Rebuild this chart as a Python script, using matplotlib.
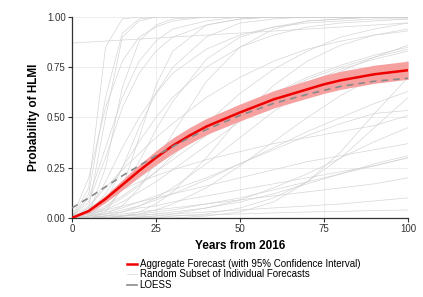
import numpy as np
import matplotlib.pyplot as plt

plt.rcParams['font.family'] = ['Liberation Sans', 'DejaVu Sans']

# years at which the summary curves are sampled
agg_years = [0, 5, 10, 15, 20, 25, 30, 35, 40, 50, 60, 70, 75, 80, 90, 100]

# aggregate forecast and its 95% interval
agg = [0.0, 0.035, 0.095, 0.165, 0.235, 0.30, 0.36, 0.41, 0.455, 0.525, 0.59, 0.64, 0.665, 0.685, 0.715, 0.735]
agg_lo = [0.0, 0.025, 0.077, 0.14, 0.205, 0.265, 0.322, 0.37, 0.415, 0.483, 0.547, 0.596, 0.62, 0.64, 0.67, 0.69]
agg_hi = [0.005, 0.045, 0.113, 0.19, 0.265, 0.335, 0.398, 0.45, 0.495, 0.567, 0.633, 0.684, 0.71, 0.73, 0.76, 0.78]

# LOESS fit
loess = [0.05, 0.10, 0.155, 0.21, 0.26, 0.31, 0.355, 0.40, 0.44, 0.51, 0.57, 0.615, 0.635, 0.655, 0.68, 0.695]

# random subset of individual forecasts
years = [0, 5, 10, 15, 20, 25, 30, 40, 50, 60, 70, 80, 90, 100]
indiv = [
    [0, 0.15, 0.85, 0.99, 1, 1, 1, 1, 1, 1, 1, 1, 1, 1],
    [0, 0.05, 0.5, 0.9, 0.98, 1, 1, 1, 1, 1, 1, 1, 1, 1],
    [0, 0.02, 0.25, 0.65, 0.88, 0.96, 0.99, 1, 1, 1, 1, 1, 1, 1],
    [0.87, 0.875, 0.88, 0.885, 0.89, 0.895, 0.9, 0.91, 0.92, 0.93, 0.94, 0.95, 0.96, 0.97],
    [0, 0.1, 0.35, 0.6, 0.78, 0.88, 0.94, 0.98, 1, 1, 1, 1, 1, 1],
    [0, 0.01, 0.08, 0.25, 0.45, 0.62, 0.75, 0.9, 0.97, 0.99, 1, 1, 1, 1],
    [0, 0.03, 0.12, 0.25, 0.38, 0.5, 0.6, 0.75, 0.85, 0.91, 0.95, 0.97, 0.98, 0.99],
    [0, 0.0, 0.02, 0.06, 0.15, 0.28, 0.42, 0.68, 0.85, 0.94, 0.98, 0.99, 1, 1],
    [0, 0.06, 0.15, 0.24, 0.32, 0.4, 0.47, 0.6, 0.7, 0.78, 0.84, 0.88, 0.91, 0.93],
    [0, 0.02, 0.06, 0.11, 0.17, 0.23, 0.29, 0.41, 0.52, 0.61, 0.69, 0.75, 0.8, 0.84],
    [0, 0.0, 0.01, 0.03, 0.06, 0.1, 0.15, 0.27, 0.4, 0.53, 0.64, 0.73, 0.8, 0.86],
    [0, 0.01, 0.03, 0.05, 0.08, 0.11, 0.14, 0.2, 0.27, 0.34, 0.41, 0.47, 0.52, 0.535],
    [0, 0.0, 0.0, 0.01, 0.02, 0.04, 0.07, 0.15, 0.26, 0.38, 0.5, 0.61, 0.7, 0.78],
    [0, 0.02, 0.04, 0.06, 0.08, 0.1, 0.12, 0.16, 0.2, 0.24, 0.28, 0.31, 0.34, 0.37],
    [0, 0.01, 0.02, 0.03, 0.05, 0.06, 0.08, 0.11, 0.14, 0.17, 0.2, 0.23, 0.26, 0.30],
    [0, 0.0, 0.01, 0.02, 0.03, 0.04, 0.05, 0.07, 0.09, 0.11, 0.13, 0.15, 0.17, 0.20],
    [0, 0, 0, 0, 0.005, 0.01, 0.02, 0.05, 0.09, 0.15, 0.22, 0.3, 0.38, 0.45],
    [0, 0, 0, 0, 0, 0, 0.01, 0.02, 0.05, 0.1, 0.18, 0.3, 0.45, 0.6],
    [0, 0.005, 0.01, 0.01, 0.015, 0.02, 0.02, 0.03, 0.04, 0.05, 0.06, 0.07, 0.085, 0.1],
    [0, 0, 0, 0.01, 0.01, 0.02, 0.03, 0.05, 0.08, 0.12, 0.17, 0.22, 0.27, 0.31],
    [0, 0.08, 0.3, 0.55, 0.72, 0.83, 0.9, 0.96, 0.99, 1, 1, 1, 1, 1],
    [0, 0.04, 0.18, 0.35, 0.5, 0.62, 0.72, 0.84, 0.91, 0.95, 0.97, 0.98, 0.99, 0.99],
    [0, 0, 0, 0.01, 0.03, 0.07, 0.13, 0.3, 0.5, 0.66, 0.78, 0.86, 0.91, 0.94],
    [0, 0.03, 0.08, 0.14, 0.2, 0.26, 0.32, 0.43, 0.53, 0.62, 0.7, 0.76, 0.81, 0.85],
    [0, 0.01, 0.04, 0.08, 0.13, 0.18, 0.24, 0.36, 0.48, 0.58, 0.67, 0.74, 0.79, 0.83],
    [0, 0, 0, 0, 0, 0, 0, 0.01, 0.03, 0.08, 0.18, 0.33, 0.52, 0.7],
    [0, 0.05, 0.1, 0.14, 0.18, 0.21, 0.24, 0.29, 0.33, 0.37, 0.4, 0.43, 0.46, 0.51],
    [0, 0.02, 0.05, 0.1, 0.16, 0.23, 0.31, 0.47, 0.62, 0.74, 0.83, 0.9, 0.94, 0.97],
    [0, 0.12, 0.6, 0.92, 0.99, 1, 1, 1, 1, 1, 1, 1, 1, 1],
    [0, 0, 0.03, 0.15, 0.4, 0.66, 0.83, 0.96, 0.99, 1, 1, 1, 1, 1],
    [0, 0.01, 0.02, 0.04, 0.06, 0.09, 0.12, 0.19, 0.27, 0.35, 0.43, 0.5, 0.57, 0.63],
    [0, 0, 0.01, 0.01, 0.02, 0.03, 0.04, 0.07, 0.1, 0.14, 0.18, 0.22, 0.26, 0.30],
    [0, 0, 0, 0, 0.005, 0.01, 0.01, 0.015, 0.02, 0.025, 0.03, 0.033, 0.037, 0.04],
    [0, 0.2, 0.55, 0.78, 0.9, 0.95, 0.98, 1, 1, 1, 1, 1, 1, 1],
    [0, 0.01, 0.05, 0.14, 0.28, 0.44, 0.58, 0.79, 0.9, 0.95, 0.98, 0.99, 1, 1],
]

fig = plt.figure(figsize=(4.23, 2.97), dpi=100)
ax = fig.add_axes([0.170, 0.266, 0.795, 0.677])

for i, c in enumerate(indiv):
    ax.plot(years, c, color='#cfcfcf', lw=0.5, alpha=0.85, zorder=1,
            label='Random Subset of Individual Forecasts' if i == 0 else None)

ax.fill_between(agg_years, agg_lo, agg_hi, color='#f6a0a0', lw=0, zorder=2)
ax.plot(agg_years, agg, color='#ee0000', lw=1.8, zorder=3,
        label='Aggregate Forecast (with 95% Confidence Interval)')
ax.plot(agg_years, loess, color='#8a8a8a', lw=1.2, ls=(0, (4, 3)), zorder=4, label='LOESS')

ax.set_xlim(0, 100)
ax.set_ylim(0, 1)
ax.set_xticks([0, 25, 50, 75, 100])
ax.set_yticks([0, 0.25, 0.5, 0.75, 1.0])
ax.set_yticklabels(['0.00', '0.25', '0.50', '0.75', '1.00'])
ax.grid(color='#ebebeb', lw=0.6)
ax.set_axisbelow(True)
for s in ['top', 'right']:
    ax.spines[s].set_visible(False)
for s in ['left', 'bottom']:
    ax.spines[s].set_color('#333333')
    ax.spines[s].set_linewidth(0.9)
ax.tick_params(labelsize=7, colors='#333333', length=3, width=0.8, pad=1.5)
ax.set_xlabel('Years from 2016', fontsize=8.5, fontweight='bold', labelpad=4)
ax.set_ylabel('Probability of HLMI', fontsize=8.5, fontweight='bold', labelpad=5)

h, l = ax.get_legend_handles_labels()
order = [1, 0, 2]
leg = fig.legend([h[i] for i in order], [l[i] for i in order], loc='upper left',
                 bbox_to_anchor=(0.30, 0.128), frameon=False, fontsize=7,
                 handlelength=1.0, handletextpad=0.3, labelspacing=0.05,
                 borderpad=0, borderaxespad=0)
leg.get_lines()[2].set_linestyle('-')

fig.savefig('out.png', dpi=100)
